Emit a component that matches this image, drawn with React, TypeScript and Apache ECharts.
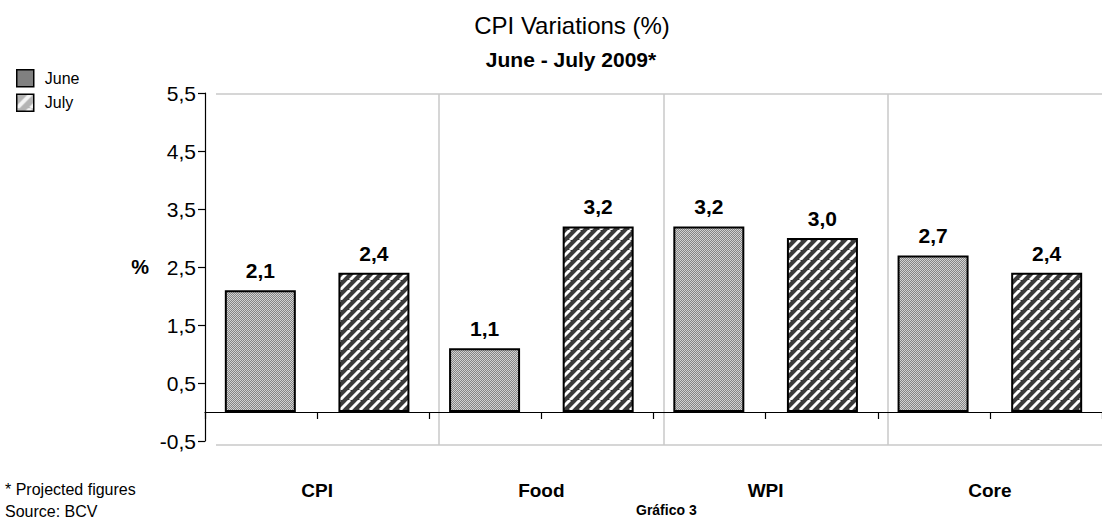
import React, { useEffect, useRef } from "react";
import * as echarts from "echarts";

const categories = ["CPI", "Food", "WPI", "Core"];
const juneValues = [2.1, 1.1, 3.2, 2.7];
const julyValues = [2.4, 3.2, 3.0, 2.4];
const seriesNames = ["June", "July"];
const yMin = -0.5;
const yMax = 5.5;
const yStep = 1;

const FONT = "'Liberation Sans', Arial, sans-serif";

function fmt(v: number) {
  return v.toFixed(1).replace(".", ",");
}

function makeDots() {
  const c = document.createElement("canvas");
  c.width = 2;
  c.height = 2;
  const ctx = c.getContext("2d")!;
  ctx.fillStyle = "#858585";
  ctx.fillRect(0, 0, 2, 2);
  ctx.fillStyle = "#d2d2d2";
  ctx.fillRect(0, 0, 1, 1);
  ctx.fillRect(1, 1, 1, 1);
  return c;
}

function makeStripes(size: number, bg: string, fg: string, lw: number) {
  const c = document.createElement("canvas");
  c.width = size;
  c.height = size;
  const ctx = c.getContext("2d")!;
  ctx.fillStyle = bg;
  ctx.fillRect(0, 0, size, size);
  ctx.strokeStyle = fg;
  ctx.lineWidth = lw;
  for (const off of [-size, 0, size]) {
    ctx.beginPath();
    ctx.moveTo(off, size);
    ctx.lineTo(off + size, 0);
    ctx.stroke();
  }
  return c;
}

export default function App() {
  const ref = useRef<HTMLDivElement>(null);

  useEffect(() => {
    document.body.style.margin = "0";
    if (!ref.current) return;
    const chart = echarts.init(ref.current, undefined, { renderer: "svg" });

    const dots = { image: makeDots(), repeat: "repeat" } as any;
    const stripes = { image: makeStripes(10, "#3c3c3c", "#ffffff", 3), repeat: "repeat" } as any;
    const legendStripes = { image: makeStripes(14, "#b4b4b4", "#f4f4f4", 4), repeat: "repeat" } as any;

    const gray = "#c8c8c8";
    const labelStyle = {
      show: true,
      position: "top" as const,
      distance: 9,
      formatter: (p: any) => fmt(p.value),
      fontFamily: FONT,
      fontWeight: "bold" as const,
      fontSize: 21,
      color: "#000",
    };

    chart.setOption({
      animation: false,
      backgroundColor: "#fff",
      title: [
        {
          text: "CPI Variations (%)",
          left: 567,
          top: 8,
          textAlign: "center",
          textStyle: { fontFamily: FONT, fontSize: 24, fontWeight: "normal", color: "#000" },
        },
        {
          text: "June - July 2009*",
          left: 566,
          top: 44,
          textAlign: "center",
          textStyle: { fontFamily: FONT, fontSize: 21, fontWeight: "bold", color: "#000" },
        },
      ],
      legend: {
        orient: "vertical",
        left: 11,
        top: 64,
        itemWidth: 17,
        itemHeight: 17,
        itemGap: 6,
        icon: "rect",
        textStyle: { fontFamily: FONT, fontSize: 16, color: "#000", padding: [0, 0, 0, 6] },
        data: [
          { name: seriesNames[0], itemStyle: { color: "#808080", borderColor: "#000", borderWidth: 1.5 } },
          { name: seriesNames[1], itemStyle: { color: legendStripes, borderColor: "#000", borderWidth: 1.5 } },
        ],
      },
      grid: { left: 205, top: 93, width: 908, height: 348, containLabel: false },
      xAxis: [
        {
          type: "category",
          data: categories,
          position: "bottom",
          axisLine: { show: false, onZero: false },
          axisTick: { show: false },
          axisLabel: {
            margin: 40,
            fontFamily: FONT,
            fontWeight: "bold",
            fontSize: 19,
            color: "#000",
          },
          splitLine: { show: false },
        },
        {
          type: "value",
          min: 0,
          max: categories.length * 2,
          interval: 1,
          position: "bottom",
          axisLine: { show: true, onZero: true, lineStyle: { color: "#000", width: 1.2 } },
          axisTick: { show: true, length: 7, lineStyle: { color: "#000", width: 1.2 } },
          axisLabel: { show: false },
          splitLine: { show: false },
        },
      ],
      yAxis: {
        type: "value",
        min: yMin,
        max: yMax,
        interval: yStep,
        name: "%",
        nameLocation: "middle",
        nameRotate: 0,
        nameGap: 56,
        nameTextStyle: { fontFamily: FONT, fontWeight: "bold", fontSize: 20, color: "#000", padding: [20, 0, 0, 0] },
        axisLine: { show: true, lineStyle: { color: "#000", width: 1.2 } },
        axisTick: { show: true, length: 7, lineStyle: { color: "#000", width: 1.2 } },
        axisLabel: {
          formatter: (v: number) => fmt(v),
          margin: 9,
          fontFamily: FONT,
          fontSize: 21,
          color: "#000",
        },
        splitLine: { show: false },
      },
      graphic: [
        { type: "line", shape: { x1: 216, y1: 94, x2: 1102, y2: 94 }, style: { stroke: gray, lineWidth: 1.5 }, z: 0 },
        { type: "line", shape: { x1: 216, y1: 445, x2: 1102, y2: 445 }, style: { stroke: gray, lineWidth: 1.5 }, z: 0 },
        { type: "line", shape: { x1: 439, y1: 94, x2: 439, y2: 445 }, style: { stroke: gray, lineWidth: 1.5 }, z: 0 },
        { type: "line", shape: { x1: 664, y1: 94, x2: 664, y2: 445 }, style: { stroke: gray, lineWidth: 1.5 }, z: 0 },
        { type: "line", shape: { x1: 888, y1: 94, x2: 888, y2: 445 }, style: { stroke: gray, lineWidth: 1.5 }, z: 0 },
        {
          type: "text",
          left: 5,
          top: 481,
          style: { text: "* Projected figures", fontFamily: FONT, fontSize: 16, fill: "#000" },
        },
        {
          type: "text",
          left: 5,
          top: 503,
          style: { text: "Source: BCV", fontFamily: FONT, fontSize: 16, fill: "#000" },
        },
        {
          type: "text",
          left: 636,
          top: 503,
          style: { text: "Gráfico 3", fontFamily: FONT, fontSize: 14, fontWeight: "bold", fill: "#000" },
        },
      ],
      series: [
        {
          name: seriesNames[0],
          type: "bar",
          xAxisIndex: 0,
          data: juneValues,
          barWidth: 71,
          barGap: "60%",
          itemStyle: { color: dots, borderColor: "#000", borderWidth: 2 },
          label: labelStyle,
        },
        {
          name: seriesNames[1],
          type: "bar",
          xAxisIndex: 0,
          data: julyValues,
          barWidth: 71,
          barGap: "60%",
          itemStyle: { color: stripes, borderColor: "#000", borderWidth: 2 },
          label: labelStyle,
        },
      ],
    });

    return () => chart.dispose();
  }, []);

  return <div ref={ref} style={{ width: 1102, height: 523 }} />;
}
